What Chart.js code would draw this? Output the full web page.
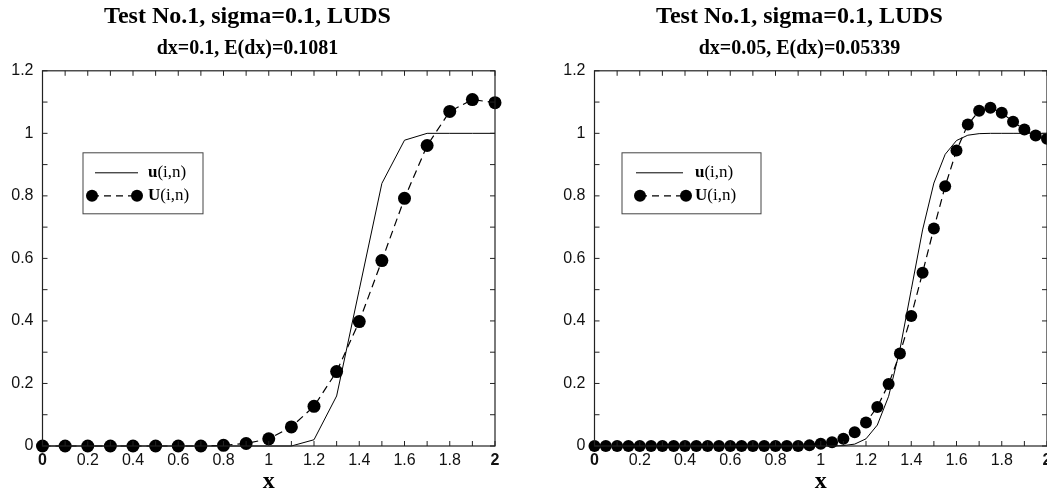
<!DOCTYPE html>
<html>
<head>
<meta charset="utf-8">
<script src="https://cdn.jsdelivr.net/npm/chart.js@4.4.0/dist/chart.umd.min.js"></script>
<style>
  html, body { margin: 0; padding: 0; background: #fff; overflow: hidden; width: 1047px; height: 490px; }
  .panel { position: absolute; top: 0; width: 520px; height: 490px; }
</style>
</head>
<body>
<div class="panel" style="left:0"><canvas id="chartA" width="520" height="490"></canvas></div>
<div class="panel" style="left:552px"><canvas id="chartB" width="520" height="490"></canvas></div>
<script>
// Left panel: dx = 0.1
const xA = [0, 0.1, 0.2, 0.3, 0.4, 0.5, 0.6, 0.7, 0.8, 0.9, 1.0,
            1.1, 1.2, 1.3, 1.4, 1.5, 1.6, 1.7, 1.8, 1.9, 2.0];
const exactA = [0, 0, 0, 0, 0, 0, 0, 0, 0, 0, 0,
                0, 0.02, 0.16, 0.5, 0.84, 0.978, 1.0, 1.0, 1.0, 1.0];
const numA = [0, 0, 0, 0, 0, 0, 0, 0, 0.002, 0.008, 0.023,
              0.061, 0.127, 0.238, 0.398, 0.593, 0.792, 0.961, 1.07, 1.108, 1.098];

// Right panel: dx = 0.05
const xB = [0, 0.05, 0.1, 0.15, 0.2, 0.25, 0.3, 0.35, 0.4, 0.45, 0.5,
            0.55, 0.6, 0.65, 0.7, 0.75, 0.8, 0.85, 0.9, 0.95, 1.0,
            1.05, 1.1, 1.15, 1.2, 1.25, 1.3, 1.35, 1.4, 1.45, 1.5,
            1.55, 1.6, 1.65, 1.7, 1.75, 1.8, 1.85, 1.9, 1.95, 2.0];
const exactB = [0, 0, 0, 0, 0, 0, 0, 0, 0, 0, 0,
                0, 0, 0, 0, 0, 0, 0, 0, 0, 0,
                0.0002, 0.0013, 0.006, 0.023, 0.067, 0.159, 0.309, 0.5, 0.691, 0.841,
                0.933, 0.977, 0.994, 0.999, 1.0, 1.0, 1.0, 1.0, 1.0, 1.0];
const numB = [0, 0, 0, 0, 0, 0, 0, 0, 0, 0, 0,
              0, 0, 0, 0, 0, 0, 0, 0, 0.002, 0.007,
              0.012, 0.023, 0.044, 0.075, 0.125, 0.198, 0.296, 0.416, 0.554, 0.696,
              0.831, 0.945, 1.028, 1.072, 1.082, 1.066, 1.037, 1.012, 0.993, 0.983];

const titleText = 'Test No.1, sigma=0.1, LUDS';
const subA = 'dx=0.1, E(dx)=0.1081';
const subB = 'dx=0.05, E(dx)=0.05339';

const serif = '"Liberation Serif", "Times New Roman", serif';
const sans = '"Liberation Sans", Arial, sans-serif';

// box around the plot + inward tick marks on all four sides
const frameTicks = {
  id: 'frameTicks',
  afterDraw(chart) {
    const ctx = chart.ctx, a = chart.chartArea;
    const xs = chart.scales.x, ys = chart.scales.y;
    const len = 5;
    ctx.save();
    ctx.strokeStyle = '#222';
    ctx.lineWidth = 1.2;
    ctx.strokeRect(a.left, a.top, a.right - a.left, a.bottom - a.top);
    ctx.lineWidth = 1;
    ctx.beginPath();
    xs.ticks.forEach(t => {
      const px = xs.getPixelForValue(t.value);
      ctx.moveTo(px, a.bottom); ctx.lineTo(px, a.bottom - len);
      ctx.moveTo(px, a.top); ctx.lineTo(px, a.top + len);
    });
    ys.ticks.forEach(t => {
      const py = ys.getPixelForValue(t.value);
      ctx.moveTo(a.left, py); ctx.lineTo(a.left + len, py);
      ctx.moveTo(a.right, py); ctx.lineTo(a.right - len, py);
    });
    ctx.stroke();
    ctx.restore();
  }
};

// legend box: solid line for u(i,n), dashed with dots for U(i,n)
const boxLegend = {
  id: 'boxLegend',
  afterDraw(chart, args, o) {
    const ctx = chart.ctx, a = chart.chartArea;
    const bx = a.left + o.x, by = a.top + o.y;
    ctx.save();
    ctx.strokeStyle = '#444';
    ctx.lineWidth = 1;
    ctx.strokeRect(bx, by, o.w, o.h);

    ctx.strokeStyle = '#000';
    ctx.beginPath();
    ctx.moveTo(bx + o.line0, by + o.row1);
    ctx.lineTo(bx + o.line1, by + o.row1);
    ctx.stroke();

    ctx.setLineDash([7, 5]);
    ctx.lineWidth = 1.2;
    ctx.beginPath();
    ctx.moveTo(bx + o.dot0, by + o.row2);
    ctx.lineTo(bx + o.dot1, by + o.row2);
    ctx.stroke();
    ctx.setLineDash([]);
    ctx.fillStyle = '#000';
    [o.dot0, o.dot1].forEach(d => {
      ctx.beginPath();
      ctx.arc(bx + d, by + o.row2, o.r, 0, Math.PI * 2);
      ctx.fill();
    });

    ctx.textBaseline = 'middle';
    const rows = [['u', o.row1], ['U', o.row2]];
    rows.forEach(([letter, ry]) => {
      let tx = bx + o.text;
      ctx.font = 'bold 17px ' + serif;
      ctx.fillText(letter, tx, by + ry);
      tx += ctx.measureText(letter).width;
      ctx.font = '17px ' + serif;
      ctx.fillText('(i,n)', tx, by + ry);
    });
    ctx.restore();
  }
};

function tickLabel(v) {
  const k = Math.round(v * 10);
  return k % 2 === 0 ? String(k / 10) : '';
}

function makeChart(id, subtitle, xs, exact, num, radius, legendOpts) {
  const exactPts = xs.map((x, i) => ({ x: x, y: exact[i] }));
  const numPts = xs.map((x, i) => ({ x: x, y: num[i] }));
  return new Chart(document.getElementById(id), {
    type: 'line',
    data: {
      datasets: [
        {
          label: 'u(i,n)',
          data: exactPts,
          borderColor: '#000',
          borderWidth: 1,
          pointRadius: 0,
          tension: 0,
          clip: false
        },
        {
          label: 'U(i,n)',
          data: numPts,
          borderColor: '#000',
          borderWidth: 1.2,
          borderDash: [8, 5],
          pointRadius: radius,
          pointBackgroundColor: '#000',
          pointBorderColor: '#000',
          pointBorderWidth: 0,
          tension: 0,
          clip: false
        }
      ]
    },
    options: {
      responsive: false,
      animation: false,
      events: [],
      layout: { padding: { left: 0, right: 25, top: 0, bottom: 0 } },
      plugins: {
        legend: { display: false },
        tooltip: { enabled: false },
        title: {
          display: true,
          text: titleText,
          color: '#000',
          font: { family: serif, size: 24, weight: 'bold' },
          padding: { top: 2, bottom: 6 }
        },
        subtitle: {
          display: true,
          text: subtitle,
          color: '#000',
          font: { family: serif, size: 20, weight: 'bold' },
          padding: { top: 0, bottom: 10 }
        },
        boxLegend: legendOpts
      },
      scales: {
        x: {
          type: 'linear',
          min: 0,
          max: 2,
          afterFit: s => { s.height = 44; },
          grid: { display: false, drawTicks: false },
          border: { display: false },
          ticks: {
            stepSize: 0.1,
            autoSkip: false,
            maxRotation: 0,
            padding: 5,
            color: '#111',
            font: c => ({
              family: sans,
              size: 16,
              weight: (c.tick && (c.tick.value === 0 || Math.abs(c.tick.value - 2) < 1e-6)) ? 'bold' : 'normal'
            }),
            callback: tickLabel
          },
          title: {
            display: true,
            text: 'x',
            color: '#000',
            font: { family: serif, size: 24, weight: 'bold' },
            padding: { top: 0, bottom: -6 }
          }
        },
        y: {
          min: 0,
          max: 1.2,
          afterFit: s => { s.width = 42.5; },
          grid: { display: false, drawTicks: false },
          border: { display: false },
          ticks: {
            stepSize: 0.1,
            autoSkip: false,
            padding: 9,
            color: '#111',
            font: { family: sans, size: 16 },
            callback: tickLabel
          }
        }
      }
    },
    plugins: [frameTicks, boxLegend]
  });
}

makeChart('chartA', subA, xA, exactA, numA, 6.5,
  { x: 40.5, y: 82, w: 120, h: 61, row1: 20, row2: 43,
    line0: 12, line1: 55, dot0: 9, dot1: 54, r: 6, text: 65 });

makeChart('chartB', subB, xB, exactB, numB, 6,
  { x: 27.5, y: 82, w: 139, h: 61, row1: 20, row2: 43,
    line0: 14, line1: 61, dot0: 18, dot1: 64, r: 6, text: 73 });
</script>
</body>
</html>
